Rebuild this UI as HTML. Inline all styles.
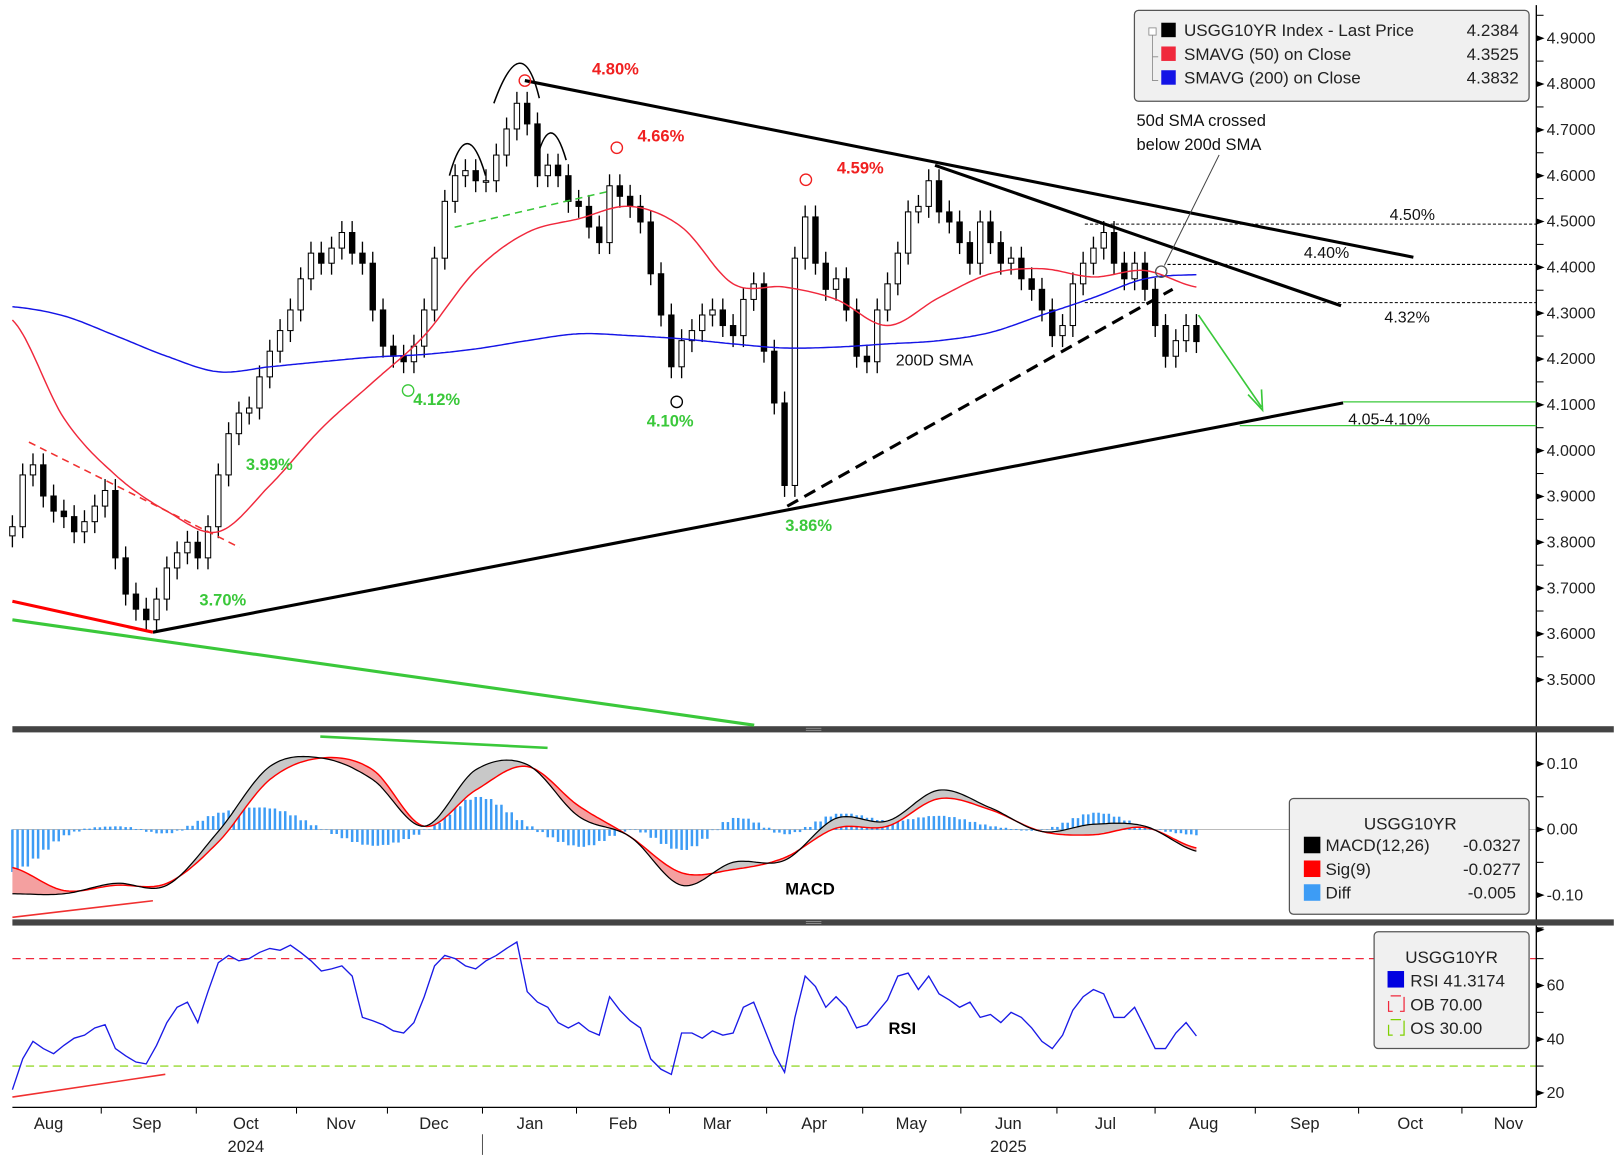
<!DOCTYPE html>
<html><head><meta charset="utf-8"><style>
html,body{margin:0;padding:0;background:#fff;}
svg{display:block;font-family:"Liberation Sans","DejaVu Sans",sans-serif;}
</style></head><body>
<svg id="chart" width="1620" height="1158" viewBox="0 0 1568 1121" preserveAspectRatio="none" xmlns="http://www.w3.org/2000/svg">
<rect x="0" y="0" width="1568" height="1121" fill="#fff"/>
<g id="price-layer"></g>
<g id="macd-layer"></g>
<g id="rsi-layer"></g>
<g id="axis-layer"></g>
<g id="anno-layer"></g>
</svg>
<script>
// ---- data ----
const closes = [3.834,3.947,3.969,3.901,3.868,3.856,3.823,3.845,3.879,3.913,3.766,3.687,3.654,3.631,3.676,3.744,3.777,3.800,3.766,3.834,
3.947,4.037,4.082,4.093,4.161,4.217,4.262,4.307,4.375,4.431,4.409,4.442,4.476,4.431,4.409,4.307,4.228,4.206,4.194,4.228,
4.307,4.420,4.544,4.600,4.611,4.589,4.589,4.645,4.702,4.758,4.713,4.600,4.623,4.600,4.544,4.533,4.488,4.454,4.578,4.555,
4.533,4.499,4.386,4.296,4.183,4.240,4.262,4.296,4.307,4.273,4.251,4.330,4.364,4.217,4.104,3.924,4.420,4.510,4.409,4.352,
4.375,4.307,4.206,4.194,4.307,4.364,4.431,4.521,4.533,4.589,4.521,4.499,4.454,4.409,4.499,4.454,4.409,4.420,4.375,4.352,
4.307,4.251,4.273,4.364,4.409,4.442,4.476,4.409,4.375,4.409,4.352,4.273,4.206,4.240,4.273,4.238];
const sma50 = [4.285,4.071,3.947,3.868,3.823,3.924,4.048,4.149,4.251,4.393,4.476,4.506,4.533,4.488,4.364,4.357,4.330,4.273,4.334,4.386,4.397,4.379,4.393,4.357];
const sma200 = [4.314,4.294,4.251,4.206,4.172,4.183,4.194,4.204,4.210,4.222,4.240,4.255,4.251,4.244,4.233,4.224,4.226,4.233,4.240,4.258,4.296,4.334,4.375,4.384];
const macdVals = [-0.098,-0.098,-0.082,-0.085,-0.003,0.096,0.109,0.076,0.005,0.091,0.099,0.020,-0.011,-0.085,-0.050,-0.047,0.017,0.013,0.060,0.033,-0.003,0.008,0.005,-0.033];
const sigVals = [-0.058,-0.093,-0.085,-0.082,-0.019,0.076,0.109,0.091,0.005,0.060,0.096,0.036,-0.011,-0.066,-0.061,-0.043,0.002,0.005,0.047,0.030,-0.003,-0.008,0.003,-0.028];
const rsiVals = [21.2,32.7,39.2,36.5,34.6,37.7,40.4,41.5,44.2,45.4,36.5,33.8,31.5,30.8,37.7,46.2,51.9,53.8,46.2,57.7,
68.5,71.2,69.2,70,72.3,73.8,73.1,75,72.3,69.2,65.4,66.2,67.3,63.5,48.1,46.9,45.4,43.1,42.3,46.2,
55.8,67.3,71.2,70,67.3,66.2,69.2,71.2,73.8,76.2,57.7,53.8,51.9,46.2,44.2,46.2,43.1,41.5,55.8,50.8,
46.9,44.2,32.7,28.8,26.9,42.3,42.3,40.4,43.1,41.5,42.3,51.9,53.8,44.2,34.6,27.7,48.1,63.5,59.6,51.9,
55.8,51.9,44.2,45.4,50,54.6,63.5,64.6,58.5,63.5,56.9,54.6,51.9,53.8,48.1,49.2,46.2,50,48.1,44.2,
39.2,36.5,41.5,50.8,55.8,58.5,56.9,48.1,48.1,51.9,44.2,36.5,36.5,42.3,46.2,41.2];
const priceTicks = ["4.9000","4.8000","4.7000","4.6000","4.5000","4.4000","4.3000","4.2000","4.1000","4.0000","3.9000","3.8000","3.7000","3.6000","3.5000"];
const macdTicks = ["0.10","0.00","-0.10"];
const rsiTicks = ["60","40","20"];
const months = ["Aug","Sep","Oct","Nov","Dec","Jan","Feb","Mar","Apr","May","Jun","Jul","Aug","Sep","Oct","Nov"];
const monthX = [47,142,238,330,420,513,603,694,788,882,976,1070,1165,1263,1365,1460];
const monthTickX = [98,190,287,375,467,558,648,742,835,930,1023,1118,1215,1315,1415];

// ---- scales ----
const NS = "http://www.w3.org/2000/svg";
const STEP = 1146/(closes.length-1);
const SMA_STEP = 5;
const xI = i => 12 + i*STEP;
const yP = p => 37 + (4.9-p)*443.6;
const yM = v => 803 - v*635;
const yR = r => 928 + (70-r)*2.6;
function mk(parent, tag, attrs, text){
  const e = document.createElementNS(NS, tag);
  for (const k in attrs) e.setAttribute(k, attrs[k]);
  if (text !== undefined) e.textContent = text;
  parent.appendChild(e); return e;
}
function cr(arr, t){
  const n = arr.length; let k = Math.floor(t); if (k>=n-1) k=n-2; if(k<0)k=0;
  const u = t-k;
  const p0=arr[Math.max(k-1,0)], p1=arr[k], p2=arr[k+1], p3=arr[Math.min(k+2,n-1)];
  return 0.5*((2*p1)+(-p0+p2)*u+(2*p0-5*p1+4*p2-p3)*u*u+(-p0+3*p1-3*p2+p3)*u*u*u);
}
function smoothPts(arr, yf){
  const pts=[]; const n=arr.length;
  for(let t=0;t<=n-1+1e-9;t+=0.05){ pts.push([xI(t*SMA_STEP*(closes.length-1)/((n-1)*SMA_STEP)), yf(cr(arr,t))]); }
  return pts;
}
const price = document.getElementById('price-layer');
const macdL = document.getElementById('macd-layer');
const rsiL = document.getElementById('rsi-layer');
const axis = document.getElementById('axis-layer');
const anno = document.getElementById('anno-layer');

// ---- candles ----
for (let i=0;i<closes.length;i++){
  const c = closes[i], o = i>0 ? closes[i-1] : closes[0]-0.02;
  const hi = Math.max(o,c)+0.025, lo = Math.min(o,c)-0.025;
  const g = mk(price,'g',{});
  
  
  mk(g,'line',{x1:xI(i),x2:xI(i),y1:yP(hi),y2:yP(lo),stroke:'#000','stroke-width':1.3});
  const top=yP(Math.max(o,c)), h=Math.max(1.5,yP(Math.min(o,c))-top);
  mk(g,'rect',{x:xI(i)-2.6,y:top,width:5.2,height:h,fill:c<o?'#000':'#fff',stroke:'#000','stroke-width':1});
}
// SMAs
function poly(parent, pts, attrs, name){
  const d = pts.map((p,j)=>(j?'L':'M')+p[0].toFixed(1)+' '+p[1].toFixed(1)).join(' ');
  const e = mk(parent,'path',Object.assign({d:d,fill:'none'},attrs));
  
  
  return e;
}
poly(price, smoothPts(sma200,yP), {stroke:'#1414e6','stroke-width':1.4}, 'sma-200-line');
poly(price, smoothPts(sma50,yP), {stroke:'#f0283c','stroke-width':1.4}, 'sma-50-line');

// ---- MACD ----
mk(macdL,'line',{x1:12,x2:1487,y1:803,y2:803,stroke:'#bbb','stroke-width':1});
for (let i=0;i<closes.length;i++){
  const t = i/SMA_STEP;
  const d = cr(macdVals,t)-cr(sigVals,t);
  const b = mk(macdL,'rect',{x:xI(i)-1.2,y:Math.min(yM(0),yM(d*1.6)),width:2.4,height:Math.abs(yM(d*1.6)-yM(0))+0.5,fill:'#3d9cf5'});
  
  
  if (i<closes.length-1){
    const b2 = mk(macdL,'rect',{x:xI(i+0.5)-1.2,y:Math.min(yM(0),yM(d*1.6)),width:2.4,height:Math.abs(yM(d*1.6)-yM(0))+0.5,fill:'#3d9cf5'});
    
    
  }
}
const mp = smoothPts(macdVals,yM), sp = smoothPts(sigVals,yM);
// fills
let run=[], runSign=null;
function flush(){
  if(run.length>1){
    const d = run.map((k,j)=>(j?'L':'M')+mp[k][0].toFixed(1)+' '+mp[k][1].toFixed(1)).join(' ')+' '+run.slice().reverse().map(k=>'L'+sp[k][0].toFixed(1)+' '+sp[k][1].toFixed(1)).join(' ')+' Z';
    const f = mk(macdL,'path',{d:d,fill:runSign?'#c8c8c8':'#f4a0a0',stroke:'none'});
    
    
  }
}
for(let k=0;k<mp.length;k++){
  const s = mp[k][1] < sp[k][1];
  if (runSign===null) runSign=s;
  if (s!==runSign){ run.push(k); flush(); run=[k]; runSign=s; } else run.push(k);
}
flush();
poly(macdL, sp, {stroke:'#f00','stroke-width':1.4}, 'macd-signal-line');
poly(macdL, mp, {stroke:'#000','stroke-width':1.2}, 'macd-line');

// ---- RSI ----
const ob = mk(rsiL,'line',{x1:12,x2:1487,y1:yR(70),y2:yR(70),stroke:'#f0283c','stroke-width':1.2,'stroke-dasharray':'8,5'});
 
const os = mk(rsiL,'line',{x1:12,x2:1487,y1:yR(30),y2:yR(30),stroke:'#7fd000','stroke-width':1.2,'stroke-dasharray':'8,5'});
 
poly(rsiL, rsiVals.map((r,i)=>[xI(i),yR(r)]), {stroke:'#1a1ae6','stroke-width':1.3}, 'rsi-line');

// ---- axes ----
function bar(y){ const b=mk(axis,'rect',{x:12,y:y,width:1550,height:6,fill:'#444'});  
  mk(axis,'line',{x1:780,x2:795,y1:y+2,y2:y+2,stroke:'#999','stroke-width':0.8}); mk(axis,'line',{x1:780,x2:795,y1:y+4,y2:y+4,stroke:'#999','stroke-width':0.8}); }
mk(axis,'line',{x1:1487,x2:1487,y1:5,y2:1072,stroke:'#000','stroke-width':1.3});
mk(axis,'line',{x1:12,x2:1487,y1:1072,y2:1072,stroke:'#000','stroke-width':1.3});
function tri(y){ mk(axis,'path',{d:`M1487 ${y-3} L1495 ${y} L1487 ${y+3} Z`,fill:'#000'}); }
function minor(y){ mk(axis,'line',{x1:1487,x2:1494,y1:y,y2:y,stroke:'#000','stroke-width':1}); }
priceTicks.forEach((t,j)=>{ const y=yP(parseFloat(t)); tri(y); minor(y-22.2);
  const e=mk(axis,'text',{x:1497,y:y+5,'font-size':15.5,fill:'#222'},t);   });
macdTicks.forEach(t=>{ const y=yM(parseFloat(t)); tri(y); minor(y-31.7);
  const e=mk(axis,'text',{x:1497,y:y+5,'font-size':15.5,fill:'#222'},t);   });
minor(yM(-0.15)+0); 
rsiTicks.forEach(t=>{ const y=yR(parseFloat(t)); tri(y); minor(y-26);
  const e=mk(axis,'text',{x:1497,y:y+5,'font-size':15.5,fill:'#222'},t);   });
tri(900);
bar(703); bar(890);
months.forEach((m,j)=>{ const e=mk(axis,'text',{x:monthX[j],y:1093,'font-size':16,fill:'#222','text-anchor':'middle'},m);   });
monthTickX.forEach(x=>mk(axis,'line',{x1:x,x2:x,y1:1072,y2:1078,stroke:'#000','stroke-width':1}));
mk(axis,'line',{x1:467,x2:467,y1:1098,y2:1118,stroke:'#555','stroke-width':1});
[['2024',238],['2025',976]].forEach(a=>{ const e=mk(axis,'text',{x:a[1],y:1115,'font-size':16,fill:'#222','text-anchor':'middle'},a[0]);   });
</script>
<svg width="0" height="0"></svg>
<script>
// annotations (static markup via script for brevity)
(function(){
const a = document.getElementById('anno-layer');
const NS="http://www.w3.org/2000/svg";
function m(tag, at, txt, name){ const e=document.createElementNS(NS,tag); for(const k in at) e.setAttribute(k,at[k]); if(txt!==undefined) e.textContent=txt;
  
  
  a.appendChild(e); return e; }
// trend lines
m('line',{x1:148,y1:612,x2:1300,y2:390,stroke:'#000','stroke-width':3},undefined,'support-trendline');
m('line',{x1:508,y1:78,x2:1368,y2:249,stroke:'#000','stroke-width':3},undefined,'resistance-trendline');
m('line',{x1:905,y1:160,x2:1298,y2:296,stroke:'#000','stroke-width':3},undefined,'resistance-trendline-2');
m('line',{x1:762,y1:490,x2:1135,y2:280,stroke:'#000','stroke-width':3,'stroke-dasharray':'12,7'},undefined,'dashed-support-line');
m('line',{x1:28,y1:428,x2:232,y2:530,stroke:'#f03030','stroke-width':1.5,'stroke-dasharray':'7,5'},undefined,'red-dashed-line');
m('line',{x1:12,y1:582,x2:148,y2:612,stroke:'#f00','stroke-width':3},undefined,'red-divergence-line');
m('line',{x1:12,y1:600,x2:730,y2:702,stroke:'#3ac83a','stroke-width':3},undefined,'green-trendline');
m('line',{x1:440,y1:220,x2:590,y2:185,stroke:'#3ac83a','stroke-width':1.5,'stroke-dasharray':'7,5'},undefined,'neckline');
m('line',{x1:1160,y1:305,x2:1221,y2:394,stroke:'#3ac83a','stroke-width':1.6},undefined,'target-arrow');
m('path',{d:'M1208 382 L1222 397 L1221 377',fill:'none',stroke:'#3ac83a','stroke-width':1.6},undefined,'arrow-head');
// levels
m('line',{x1:1050,y1:217,x2:1487,y2:217,stroke:'#000','stroke-width':1,'stroke-dasharray':'3,2'},undefined,'level-4-50');
m('line',{x1:1130,y1:256,x2:1487,y2:256,stroke:'#000','stroke-width':1,'stroke-dasharray':'3,2'},undefined,'level-4-40');
m('line',{x1:1050,y1:293,x2:1487,y2:293,stroke:'#000','stroke-width':1,'stroke-dasharray':'3,2'},undefined,'level-4-32');
m('line',{x1:1300,y1:389,x2:1487,y2:389,stroke:'#3ac83a','stroke-width':1.2},undefined,'level-4-10');
m('line',{x1:1200,y1:412,x2:1487,y2:412,stroke:'#3ac83a','stroke-width':1.2},undefined,'level-4-05');
const tx=[['4.50%',1345,213],['4.40%',1262,250],['4.32%',1340,312],['4.05-4.10%',1305,411]];
tx.forEach(t=>m('text',{x:t[1],y:t[2],'font-size':15.5,fill:'#111'},t[0],'level-label'));
[['4.80%',573,72],['4.66%',617,137],['4.59%',810,168]].forEach(t=>m('text',{x:t[1],y:t[2],'font-size':16,'font-weight':'bold',fill:'#f02020'},t[0],'peak-label'));
[['4.12%',400,392],['3.99%',238,455],['4.10%',626,413],['3.86%',760,514],['3.70%',193,586]].forEach(t=>m('text',{x:t[1],y:t[2],'font-size':16,'font-weight':'bold',fill:'#3ac83a'},t[0],'trough-label'));
[[508,78,'#f02020'],[597,143,'#f02020'],[780,174,'#f02020'],[395,378,'#3ac83a'],[655,389,'#000'],[1124,263,'#555']].forEach(c=>m('circle',{cx:c[0],cy:c[1],r:5.5,fill:'none',stroke:c[2],'stroke-width':1.3},undefined,'pivot-marker'));
m('path',{d:'M435 170 Q452 108 470 170',fill:'none',stroke:'#000','stroke-width':1.5},undefined,'left-shoulder-arc');
m('path',{d:'M478 100 Q505 25 522 95',fill:'none',stroke:'#000','stroke-width':1.5},undefined,'head-arc');
m('path',{d:'M518 160 Q532 100 548 155',fill:'none',stroke:'#000','stroke-width':1.5},undefined,'right-shoulder-arc');
m('text',{x:867,y:354,'font-size':15.5,fill:'#111'},'200D SMA','sma-200-label');
m('text',{x:1100,y:122,'font-size':16,fill:'#111'},'50d SMA crossed','crossover-note');
m('text',{x:1100,y:145,'font-size':16,fill:'#111'},'below 200d SMA','crossover-note');
m('line',{x1:1180,y1:150,x2:1127,y2:257,stroke:'#444','stroke-width':1},undefined,'crossover-pointer');
m('text',{x:760,y:866,'font-size':16,'font-weight':'bold',fill:'#000'},'MACD','macd-label');
m('text',{x:860,y:1001,'font-size':16,'font-weight':'bold',fill:'#000'},'RSI','rsi-label');
m('line',{x1:12,y1:888,x2:148,y2:872,stroke:'#f03030','stroke-width':1.5},undefined,'macd-divergence-line');
m('line',{x1:12,y1:1062,x2:160,y2:1040,stroke:'#f03030','stroke-width':1.5},undefined,'rsi-divergence-line');
m('line',{x1:310,y1:713,x2:530,y2:724,stroke:'#3ac83a','stroke-width':2.5},undefined,'macd-green-line');
// legends
m('rect',{x:1098,y:10,width:382,height:88,rx:4,fill:'#f0f0f0',stroke:'#555','stroke-width':1.2},undefined,'price-legend');
m('rect',{x:1112,y:27,width:7,height:7,fill:'#fff',stroke:'#888','stroke-width':0.8},undefined,'legend-collapse-icon');
m('path',{d:'M1115.5 34 V78 H1121 M1115.5 55 H1121',fill:'none',stroke:'#888','stroke-width':0.8},undefined,'legend-tree');
[['#000','USGG10YR Index - Last Price','4.2384',33],['#f0283c','SMAVG (50)  on Close','4.3525',56],['#1414e6','SMAVG (200)  on Close','4.3832',79]].forEach(r=>{
  m('rect',{x:1124,y:r[3]-11,width:14,height:14,fill:r[0]},undefined,'legend-swatch');
  m('text',{x:1146,y:r[3]+2,'font-size':16.5,fill:'#222','xml:space':'preserve'},r[1],'legend-entry');
  m('text',{x:1470,y:r[3]+2,'font-size':16.5,fill:'#222','text-anchor':'end'},r[2],'legend-value');
});
m('rect',{x:1248,y:773,width:232,height:112,rx:4,fill:'#f0f0f0',stroke:'#555','stroke-width':1.2},undefined,'macd-legend');
m('text',{x:1365,y:803,'font-size':16.5,fill:'#222','text-anchor':'middle'},'USGG10YR','macd-legend-title');
[['#000','MACD(12,26)','-0.0327',819],['#f00','Sig(9)','-0.0277',842],['#3d9cf5','Diff','-0.005',865]].forEach(r=>{
  m('rect',{x:1262,y:r[3]-9,width:16,height:16,fill:r[0]},undefined,'legend-swatch');
  m('text',{x:1283,y:r[3]+5,'font-size':16.5,fill:'#222'},r[1],'legend-entry');
  m('text',{x:1444,y:r[3]+5,'font-size':16.5,fill:'#222','text-anchor':'middle'},r[2],'legend-value');
});
m('rect',{x:1330,y:902,width:150,height:113,rx:4,fill:'#f0f0f0',stroke:'#555','stroke-width':1.2},undefined,'rsi-legend');
m('text',{x:1405,y:932,'font-size':16.5,fill:'#222','text-anchor':'middle'},'USGG10YR','rsi-legend-title');
m('rect',{x:1343,y:940,width:16,height:16,fill:'#0000e0'},undefined,'legend-swatch');
m('text',{x:1365,y:955,'font-size':16.5,fill:'#222'},'RSI  41.3174','legend-entry');
m('path',{d:'M1344 969 V979 H1348 M1355 979 H1359 V965 M1346 964 H1356',fill:'none',stroke:'#f0283c','stroke-width':1.2},undefined,'ob-swatch');
m('text',{x:1365,y:978,'font-size':16.5,fill:'#222','xml:space':'preserve'},'OB    70.00','legend-entry');
m('path',{d:'M1344 992 V1002 H1348 M1355 1002 H1359 V988 M1346 987 H1356',fill:'none',stroke:'#7fd000','stroke-width':1.2},undefined,'os-swatch');
m('text',{x:1365,y:1001,'font-size':16.5,fill:'#222','xml:space':'preserve'},'OS    30.00','legend-entry');
})();
</script>
</body></html>
